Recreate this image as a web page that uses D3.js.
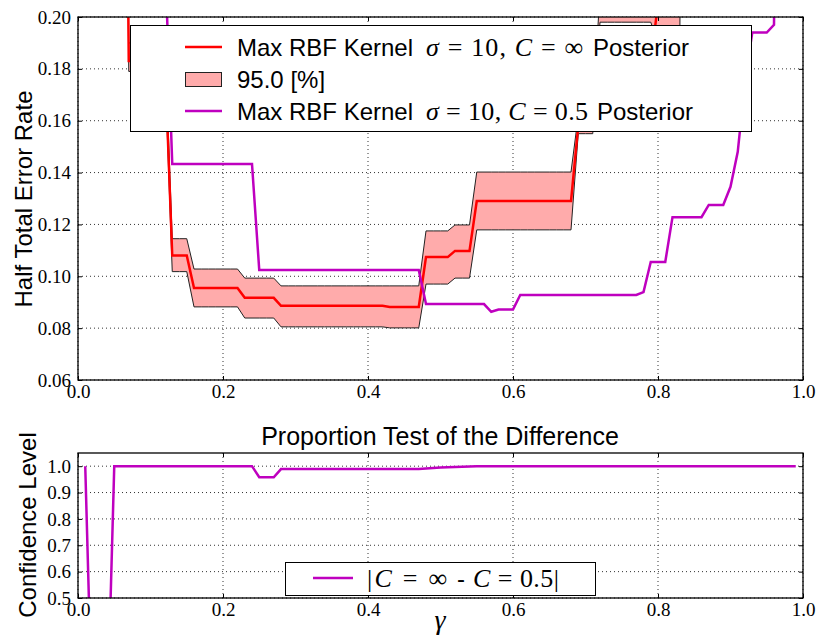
<!DOCTYPE html>
<html><head><meta charset="utf-8">
<script src="https://cdn.jsdelivr.net/npm/d3@7"></script>
<style>body{margin:0;background:#fff}</style>
</head><body>
<svg id="chart" width="816" height="644"></svg>
<script>
// gamma grid 0.01 .. 0.99
const gammaSteps = d3.range(1, 100).map(i => i / 100);

// Half total error rate, RBF sigma=10, C=inf (mean of posterior)
const hterInf = [
  0.5,0.5,0.5,0.5,0.5,0.5,0.183,0.183,0.183,0.183,
  0.183,0.183,0.108,0.108,0.108,0.0955,0.0955,0.0955,0.0955,0.0955,
  0.0955,0.0955,0.0917,0.0917,0.0917,0.0917,0.0917,0.0886,0.0886,0.0886,
  0.0886,0.0886,0.0886,0.0886,0.0886,0.0886,0.0886,0.0886,0.0886,0.0886,
  0.0886,0.0886,0.0882,0.0882,0.0882,0.0882,0.0882,0.1074,0.1074,0.1074,
  0.1074,0.1098,0.1098,0.1098,0.129,0.129,0.129,0.129,0.129,0.129,
  0.129,0.129,0.129,0.129,0.129,0.129,0.129,0.129,0.158,0.158,
  0.158,0.183,0.183,0.183,0.183,0.183,0.183,0.183,0.183,0.205,
  0.5,0.5,0.5,0.5,0.5,0.5,0.5,0.5,0.5,0.5,
  0.5,0.5,0.5,0.5,0.5,0.5,0.5,0.5,0.5
];
// 95% credible interval, upper edge
const hterInfUpper = [
  0.5,0.5,0.5,0.5,0.5,0.5,0.19,0.19,0.19,0.19,
  0.19,0.19,0.1145,0.1145,0.1145,0.1028,0.1028,0.1028,0.1028,0.1028,
  0.1028,0.1028,0.0993,0.0993,0.0993,0.0993,0.0993,0.0963,0.0963,0.0963,
  0.0963,0.0963,0.0963,0.0963,0.0963,0.0963,0.0963,0.0963,0.0963,0.0963,
  0.0963,0.0963,0.0963,0.0963,0.0963,0.0963,0.0963,0.1175,0.1175,0.1175,
  0.1175,0.1198,0.1198,0.1198,0.1402,0.1402,0.1402,0.1402,0.1402,0.1402,
  0.1402,0.1402,0.1402,0.1402,0.1402,0.1402,0.1402,0.1402,0.162,0.162,
  0.162,0.21,0.5,0.5,0.5,0.5,0.5,0.5,0.5,0.5,
  0.5,0.5,0.5,0.5,0.5,0.5,0.5,0.5,0.5,0.5,
  0.5,0.5,0.5,0.5,0.5,0.5,0.5,0.5,0.5
];
// 95% credible interval, lower edge
const hterInfLower = [
  0.5,0.5,0.5,0.5,0.5,0.5,0.179,0.179,0.179,0.179,
  0.179,0.179,0.1018,0.1018,0.1018,0.0882,0.0882,0.0882,0.0882,0.0882,
  0.0882,0.0882,0.0839,0.0839,0.0839,0.0839,0.0839,0.0805,0.0805,0.0805,
  0.0805,0.0805,0.0805,0.0805,0.0805,0.0805,0.0805,0.0805,0.0805,0.0805,
  0.0805,0.0805,0.0801,0.0801,0.0801,0.0801,0.0801,0.097,0.097,0.097,
  0.097,0.0993,0.0993,0.0993,0.1179,0.1179,0.1179,0.1179,0.1179,0.1179,
  0.1179,0.1179,0.1179,0.1179,0.1179,0.1179,0.1179,0.1179,0.155,0.155,
  0.155,0.198,0.198,0.198,0.198,0.198,0.198,0.198,0.198,0.19,
  0.19,0.19,0.19,0.5,0.5,0.5,0.5,0.5,0.5,0.5,
  0.5,0.5,0.5,0.5,0.5,0.5,0.5,0.5,0.5
];
// Half total error rate, RBF sigma=10, C=0.5
const hterC05 = [
  0.5,0.5,0.5,0.5,0.5,0.5,0.5,0.5,0.5,0.5,
  0.5,0.223,0.1433,0.1433,0.1433,0.1433,0.1433,0.1433,0.1433,0.1433,
  0.1433,0.1433,0.1433,0.1433,0.1024,0.1024,0.1024,0.1024,0.1024,0.1024,
  0.1024,0.1024,0.1024,0.1024,0.1024,0.1024,0.1024,0.1024,0.1024,0.1024,
  0.1024,0.1024,0.1024,0.1024,0.1024,0.1024,0.1024,0.0893,0.0893,0.0893,
  0.0893,0.0893,0.0893,0.0893,0.0893,0.0893,0.0863,0.0872,0.0872,0.0872,
  0.0928,0.0928,0.0928,0.0928,0.0928,0.0928,0.0928,0.0928,0.0928,0.0928,
  0.0928,0.0928,0.0928,0.0928,0.0928,0.0928,0.0928,0.0939,0.1055,0.1055,
  0.1055,0.1228,0.1228,0.1228,0.1228,0.1228,0.1275,0.1275,0.1275,0.1345,
  0.148,0.175,0.194,0.194,0.194,0.197,0.5,0.5,0.5
];
// Confidence level of the proportion test on the difference
const confidence = [
  1,0,0,0,1,1,1,1,1,1,
  1,1,1,1,1,1,1,1,1,1,
  1,1,1,1,0.958,0.958,0.958,0.989,0.989,0.989,
  0.989,0.989,0.989,0.989,0.989,0.989,0.989,0.989,0.989,0.989,
  0.989,0.989,0.989,0.989,0.989,0.989,0.989,0.991,0.993,0.995,
  0.996,0.997,0.998,0.999,1,1,1,1,1,1,
  1,1,1,1,1,1,1,1,1,1,
  1,1,1,1,1,1,1,1,1,1,
  1,1,1,1,1,1,1,1,1,1,
  1,1,1,1,1,1,1,1,1
];

const xTicks = [0, 0.2, 0.4, 0.6, 0.8, 1.0];
const yTicksTop = [0.06, 0.08, 0.10, 0.12, 0.14, 0.16, 0.18, 0.20];
const yTicksBottom = [0.5, 0.6, 0.7, 0.8, 0.9, 1.0];

const RED = '#ff0000', MAG = '#bf00bf', PINK = '#ffabab';
const SERIF = "'Liberation Serif', 'DejaVu Serif', serif";
const SANS = "'Liberation Sans', Arial, sans-serif";

const svg = d3.select('#chart');
const L = 78, R = 803;
const x = d3.scaleLinear().domain([0, 1]).range([L, R]);
const yTop = d3.scaleLinear().domain([0.06, 0.20]).range([380, 17]);
const yBot = d3.scaleLinear().domain([0.5, 1.05]).range([598, 453]);

function panel(id, y, yTicks, yFmt) {
  const [b, t] = y.range();
  svg.append('clipPath').attr('id', id).append('rect')
    .attr('x', L).attr('y', t).attr('width', R - L).attr('height', b - t);
  // dotted grid
  const grid = svg.append('g').attr('stroke', '#000').attr('stroke-width', 1)
    .attr('stroke-dasharray', '1,3').attr('opacity', 0.8);
  grid.selectAll('line.v').data(xTicks).join('line')
    .attr('x1', d => x(d)).attr('x2', d => x(d)).attr('y1', t).attr('y2', b);
  grid.selectAll('line.h').data(yTicks).join('line')
    .attr('x1', L).attr('x2', R).attr('y1', d => y(d)).attr('y2', d => y(d));
  const plot = svg.append('g').attr('clip-path', `url(#${id})`);

  // axes with inward ticks on all sides
  const axFont = g => g.attr('font-family', SERIF).attr('font-size', 19)
    .call(g => g.select('.domain').remove())
    .call(g => g.selectAll('line').attr('stroke', '#000'))
    .call(g => g.selectAll('text').attr('fill', '#000').attr('font-family', SERIF));
  svg.append('g').attr('transform', `translate(0,${b})`)
    .call(d3.axisBottom(x).tickValues(xTicks).tickFormat(d3.format('.1f'))
      .tickSizeInner(-4).tickSizeOuter(0).tickPadding(5)).call(axFont);
  svg.append('g').attr('transform', `translate(0,${t})`)
    .call(d3.axisTop(x).tickValues(xTicks).tickFormat('')
      .tickSizeInner(-4).tickSizeOuter(0)).call(axFont);
  svg.append('g').attr('transform', `translate(${L},0)`)
    .call(d3.axisLeft(y).tickValues(yTicks).tickFormat(yFmt)
      .tickSizeInner(-4).tickSizeOuter(0).tickPadding(7)).call(axFont);
  svg.append('g').attr('transform', `translate(${R},0)`)
    .call(d3.axisRight(y).tickValues(yTicks).tickFormat('')
      .tickSizeInner(-4).tickSizeOuter(0)).call(axFont);
  return plot;
}

function frame(y) {
  const [b, t] = y.range();
  svg.append('rect').attr('x', L).attr('y', t).attr('width', R - L).attr('height', b - t)
    .attr('fill', 'none').attr('stroke', '#000').attr('stroke-width', 1.3);
}

// ---- upper panel: half total error rate vs gamma ----
const errPlot = panel('clipTop', yTop, yTicksTop, d3.format('.2f'));
const idx = gammaSteps.map((g, i) => i);
errPlot.append('path')
  .attr('d', d3.area().x(i => x(gammaSteps[i])).y0(i => yTop(hterInfLower[i])).y1(i => yTop(hterInfUpper[i]))(idx))
  .attr('fill', PINK);
[hterInfUpper, hterInfLower].forEach(arr => {
  errPlot.append('path')
    .attr('d', d3.line().x((d, i) => x(gammaSteps[i])).y(d => yTop(d))(arr))
    .attr('fill', 'none').attr('stroke', '#222').attr('stroke-width', 1);
});
errPlot.append('path')
  .attr('d', d3.line().x((d, i) => x(gammaSteps[i])).y(d => yTop(d))(hterInf))
  .attr('fill', 'none').attr('stroke', RED).attr('stroke-width', 2.5);
errPlot.append('path')
  .attr('d', d3.line().x((d, i) => x(gammaSteps[i])).y(d => yTop(d))(hterC05))
  .attr('fill', 'none').attr('stroke', MAG).attr('stroke-width', 2.5);
frame(yTop);

// legend of the upper panel
const lg = svg.append('g');
lg.append('rect').attr('x', 130.5).attr('y', 25.5).attr('width', 621).attr('height', 106)
  .attr('fill', '#fff').attr('stroke', '#000').attr('stroke-width', 1);
lg.append('line').attr('x1', 185).attr('x2', 222).attr('y1', 47).attr('y2', 47)
  .attr('stroke', RED).attr('stroke-width', 2.5);
lg.append('rect').attr('x', 185.5).attr('y', 72.5).attr('width', 36).attr('height', 14)
  .attr('fill', PINK).attr('stroke', '#222').attr('stroke-width', 1);
lg.append('line').attr('x1', 185).attr('x2', 222).attr('y1', 111).attr('y2', 111)
  .attr('stroke', MAG).attr('stroke-width', 2.5);

function mathText(g, xPos, yPos, parts, len) {
  const t = g.append('text').attr('x', xPos).attr('y', yPos)
    .attr('font-family', SERIF).attr('font-size', 26).attr('fill', '#000')
    .attr('textLength', len).attr('lengthAdjust', 'spacing');
  parts.forEach(([s, it]) => t.append('tspan').attr('font-style', it ? 'italic' : 'normal').text(s));
  return t;
}
function sansText(g, xPos, yPos, s, size) {
  return g.append('text').attr('x', xPos).attr('y', yPos).attr('font-family', SANS)
    .attr('font-size', size).attr('fill', '#000').text(s);
}
sansText(lg, 237, 56, 'Max RBF Kernel', 24);
mathText(lg, 426, 56, [['σ', 1], [' = 10, ', 0], ['C', 1], [' = ∞', 0]], 157);
sansText(lg, 593, 56, 'Posterior', 24);
sansText(lg, 237, 88, '95.0 [%]', 24);
sansText(lg, 237, 120, 'Max RBF Kernel', 24);
mathText(lg, 426, 120, [['σ', 1], [' = 10, ', 0], ['C', 1], [' = 0.5', 0]], 162);
sansText(lg, 597, 120, 'Posterior', 24);

svg.append('text').attr('transform', 'translate(32,199) rotate(-90)')
  .attr('text-anchor', 'middle').attr('font-family', SANS).attr('font-size', 24)
  .text('Half Total Error Rate');

// ---- lower panel: proportion test ----
const testPlot = panel('clipBot', yBot, yTicksBottom, d3.format('.1f'));
testPlot.append('path')
  .attr('d', d3.line().x((d, i) => x(gammaSteps[i])).y(d => yBot(d))(confidence))
  .attr('fill', 'none').attr('stroke', MAG).attr('stroke-width', 2.5);
frame(yBot);

const lb = svg.append('g');
lb.append('rect').attr('x', 285.5).attr('y', 562.5).attr('width', 310).attr('height', 33)
  .attr('fill', '#fff').attr('stroke', '#000').attr('stroke-width', 1);
lb.append('line').attr('x1', 313).attr('x2', 353).attr('y1', 578).attr('y2', 578)
  .attr('stroke', MAG).attr('stroke-width', 2.5);
mathText(lb, 367, 587, [['|', 0], ['C', 1], [' = ∞', 0]], 80);
sansText(lb, 457, 587, '-', 24);
mathText(lb, 473, 587, [['C', 1], [' = 0.5|', 0]], 86);

svg.append('text').attr('x', 440).attr('y', 445).attr('text-anchor', 'middle')
  .attr('font-family', SANS).attr('font-size', 25).text('Proportion Test of the Difference');
svg.append('text').attr('transform', 'translate(36,525) rotate(-90)')
  .attr('text-anchor', 'middle').attr('font-family', SANS).attr('font-size', 24)
  .text('Confidence Level');
svg.append('text').attr('x', 440).attr('y', 629).attr('text-anchor', 'middle')
  .attr('font-family', SERIF).attr('font-style', 'italic').attr('font-size', 28).text('γ');
</script>
</body></html>
